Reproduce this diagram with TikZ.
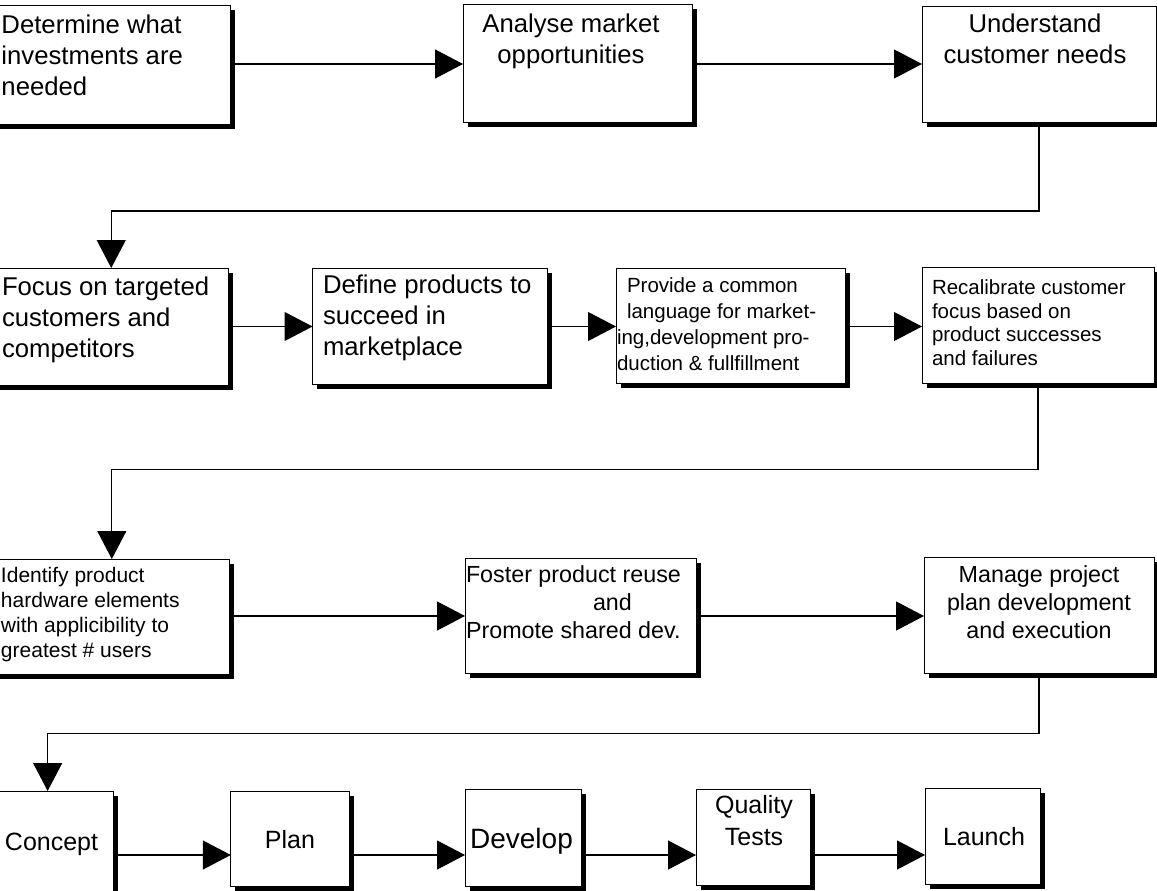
\documentclass[tikz,border=0pt]{standalone}
\usepackage{fontspec}
\setmainfont{Liberation Sans}
\usetikzlibrary{arrows.meta,shadows}

\tikzset{
  box/.style={draw=black, line width=1pt, fill=white, inner sep=0pt, outer sep=0pt,
    drop shadow={shadow xshift=4.5pt, shadow yshift=-4.5pt, opacity=1, fill=black}},
  txt/.style={inner sep=0pt, outer sep=0pt, align=left},
  ctxt/.style={inner sep=0pt, outer sep=0pt, align=center},
  big/.style={font=\fontsize{25.7}{31}\selectfont},
  stage/.style={font=\fontsize{25}{32}\selectfont},
  small/.style={font=\fontsize{20.5}{26}\selectfont},
  mid/.style={font=\fontsize{21}{25}\selectfont},
  midl/.style={font=\fontsize{23.3}{28}\selectfont},
  arr/.style={draw=black, line width=1.1pt, -{Triangle[length=28pt, width=29pt]}},
}

\begin{document}
\begin{tikzpicture}[x=1pt, y=-1pt]
\useasboundingbox (0,0) rectangle (1157,891);
\clip (0,0) rectangle (1157,891);
\fill[white] (0,0) rectangle (1157,891);

% ---- row 1 ----
\node[box, minimum width=236pt, minimum height=118pt] (A) at (112,65) {};
\node[box, minimum width=229pt, minimum height=117pt] (B) at (577.5,63.5) {};
\node[box, minimum width=234pt, minimum height=115pt] (C) at (1039,64.5) {};

% ---- row 2 ----
\node[box, minimum width=234.5pt, minimum height=117pt] (D) at (111.25,326.5) {};
\node[box, minimum width=234.5pt, minimum height=116pt] (E) at (429.75,326) {};
\node[box, minimum width=229.7pt, minimum height=115pt] (F) at (730.85,325.5) {};
\node[box, minimum width=232pt, minimum height=116pt] (G) at (1038,325) {};

% ---- row 3 ----
\node[box, minimum width=235.6pt, minimum height=115pt] (H) at (111.8,616.5) {};
\node[box, minimum width=231pt, minimum height=115pt] (I) at (580.5,615.5) {};
\node[box, minimum width=230pt, minimum height=116pt] (J) at (1039,615) {};

% ---- row 4 ----
\node[box, minimum width=131.3pt, minimum height=114pt] (K) at (47.65,848) {};
\node[box, minimum width=118.2pt, minimum height=95.7pt] (L) at (289.9,838.85) {};
\node[box, minimum width=116.7pt, minimum height=96.7pt] (M) at (523.35,837.65) {};
\node[box, minimum width=114.8pt, minimum height=95.7pt] (N) at (753.4,837.15) {};
\node[box, minimum width=115.8pt, minimum height=95.7pt] (O) at (982.9,836.15) {};

% ---- box texts ----
\node[txt, big, anchor=north west] (At) at (1.5,15) {Determine what\\investments are\\needed};
\node[ctxt, big, anchor=north] (Bt) at (571,14) {Analyse market\\opportunities};
\node[ctxt, big, anchor=north] (Ct) at (1035,14) {Understand\\customer needs};

\node[txt, big, anchor=north west] (Dt) at (2,277) {Focus on targeted\\customers and\\competitors};
\node[txt, big, anchor=north west] (Et) at (323,275) {Define products to\\succeed in\\marketplace};
\node[txt, small, anchor=north west] (Ft) at (617,278) {\hspace*{10pt}Provide a common\\\hspace*{10pt}language for market-\\ing,development pro-\\duction \& fullfillment};
\node[txt, font=\fontsize{20.5}{23.5}\selectfont, anchor=north west] (Gt) at (932,280) {Recalibrate customer\\focus based on\\product successes\\and failures};

\node[txt, mid, anchor=north west] (Ht) at (1,567) {Identify product\\hardware elements\\with applicibility to\\greatest \# users};
\node[txt, midl, anchor=north west] (It) at (466,565.4) {Foster product reuse\\\hspace*{127pt}and\\Promote shared dev.};
\node[ctxt, midl, anchor=north] (Jt) at (1039,565.4) {Manage project\\plan development\\and execution};

\node[txt, stage, anchor=base west] (Kt) at (5,850) {Concept};
\node[ctxt, stage, anchor=base] (Lt) at (290,848) {Plan};
\node[ctxt, font=\fontsize{28}{32}\selectfont, anchor=base] (Mt) at (521.5,848.3) {Develop};
\node[ctxt, stage, anchor=north] (Nt) at (754,795) {Quality\\Tests};
\node[ctxt, stage, anchor=base] (Ot) at (984,845) {Launch};

% ---- connector levels ----
\coordinate (r1) at (0,64);
\coordinate (r2) at (0,326.5);
\coordinate (r3) at (0,616);
\coordinate (r4) at (0,855);
\coordinate (k1) at (0,211);
\coordinate (k2) at (0,469.5);
\coordinate (k3) at (0,733.5);

% ---- connectors ----
\draw[arr] (A.east |- r1) -- (B.west |- r1);
\draw[arr] (B.east |- r1) -- (C.west |- r1);
\draw[arr] (C.south) |- (D.north |- k1) -- (D.north);

\draw[arr] (D.east |- r2) -- (E.west |- r2);
\draw[arr] (E.east |- r2) -- (F.west |- r2);
\draw[arr] (F.east |- r2) -- (G.west |- r2);
\draw[arr] (G.south) |- (H.north |- k2) -- (H.north);

\draw[arr] (H.east |- r3) -- (I.west |- r3);
\draw[arr] (I.east |- r3) -- (J.west |- r3);
\draw[arr] (J.south) |- (K.north |- k3) -- (K.north);

\draw[arr] (K.east |- r4) -- (L.west |- r4);
\draw[arr] (L.east |- r4) -- (M.west |- r4);
\draw[arr] (M.east |- r4) -- (N.west |- r4);
\draw[arr] (N.east |- r4) -- (O.west |- r4);
\end{tikzpicture}
\end{document}
